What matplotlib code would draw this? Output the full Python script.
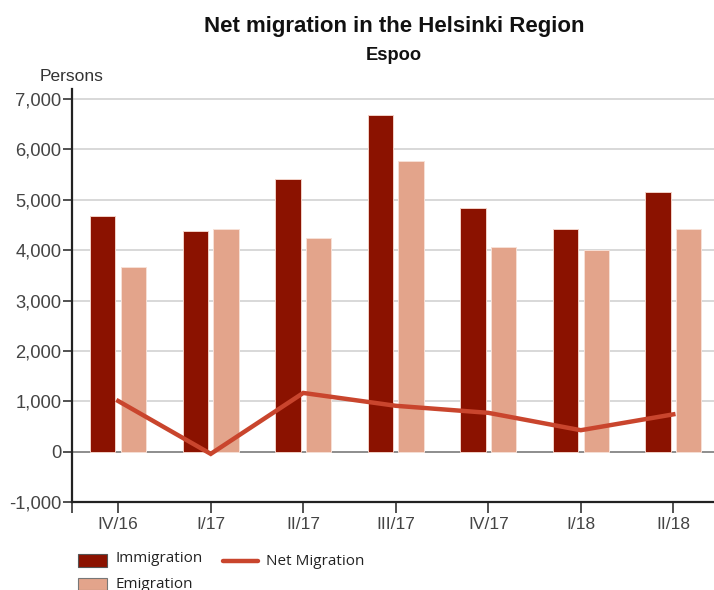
import matplotlib
matplotlib.use("Agg")
import matplotlib.pyplot as plt
import numpy as np
from matplotlib.patches import Rectangle
from matplotlib.lines import Line2D

# quarterly migration figures for Espoo (persons)
quarters = ["IV/16", "I/17", "II/17", "III/17", "IV/17", "I/18", "II/18"]
immigration = [4670, 4385, 5405, 6680, 4830, 4420, 5165]
emigration = [3665, 4430, 4240, 5770, 4060, 3995, 4425]
net_migration = [i - e for i, e in zip(immigration, emigration)]

c_imm = "#8b1200"
c_emi = "#e3a48b"
c_net = "#c9452d"

plt.rcParams["font.family"] = "Liberation Sans"

fig = plt.figure(figsize=(7.14, 5.90), dpi=100)
ax = fig.add_axes([0.1008, 0.1492, 0.907, 0.6999])

x = np.arange(len(quarters))
w = 0.275
ax.bar(x - 0.167, immigration, w, color=c_imm, edgecolor="#f2d2c8", linewidth=0.7, zorder=3)
ax.bar(x + 0.167, emigration, w, color=c_emi, edgecolor="#f7e0d6", linewidth=0.7, zorder=3)
ax.plot(x, net_migration, color=c_net, linewidth=3.2, solid_joinstyle="miter", zorder=4)

ax.set_xlim(-0.5, 6.5)
ax.set_ylim(-1000, 7200)
ax.set_yticks(range(-1000, 7001, 1000))
ax.set_yticklabels([f"{v:,}" for v in range(-1000, 7001, 1000)])
ax.set_xticks(x)
ax.set_xticklabels(quarters)
ax.set_xticks([-0.5, 6.5], minor=True)

for v in range(1000, 7001, 1000):
    ax.axhline(v, color="#d2d2d2", linewidth=1.2, zorder=1)
ax.axhline(0, color="#7a7a7a", linewidth=1.2, zorder=2)

for s in ["top", "right"]:
    ax.spines[s].set_visible(False)
for s in ["left", "bottom"]:
    ax.spines[s].set_color("#222222")
    ax.spines[s].set_linewidth(1.6)

ax.tick_params(axis="y", length=6.5, width=1.2, color="#333333", pad=1,
               labelsize=13.2, labelcolor="#444444")
ax.tick_params(axis="x", which="both", length=8, width=1.2, color="#333333", pad=3,
               labelsize=12.5, labelcolor="#444444")

fig.text(0.552, 0.9463, "Net migration in the Helsinki Region", ha="center",
         va="baseline", fontsize=16, fontweight="bold", color="#111111")
fig.text(0.551, 0.899, "Espoo", ha="center", va="baseline", fontsize=13.2,
         fontweight="bold", color="#111111")
fig.text(0.056, 0.8627, "Persons", ha="left", va="baseline", fontsize=12.5, color="#333333")

# legend drawn by hand: two swatches on the left, the line entry beside them
fig.add_artist(Rectangle((78 / 714, 1 - 566.5 / 590), 29 / 714, 12.5 / 590,
                         transform=fig.transFigure, facecolor=c_imm, edgecolor="#555555", linewidth=0.8))
fig.add_artist(Rectangle((78 / 714, 1 - 590 / 590), 29 / 714, 12.5 / 590,
                         transform=fig.transFigure, facecolor=c_emi, edgecolor="#777777", linewidth=0.8))
fig.add_artist(Line2D([223 / 714, 258 / 714], [1 - 561 / 590, 1 - 561 / 590],
                      transform=fig.transFigure, color=c_net, linewidth=3.2, solid_capstyle="round"))
fig.text(115 / 714, 1 - 562 / 590, "Immigration", family="Open Sans", fontsize=11,
         color="#222222", va="baseline")
fig.text(115 / 714, 1 - 587.5 / 590, "Emigration", family="Open Sans", fontsize=11,
         color="#222222", va="baseline")
fig.text(266 / 714, 1 - 565 / 590, "Net Migration", family="Open Sans", fontsize=11,
         color="#222222", va="baseline")

fig.savefig("out.png", dpi=100)
